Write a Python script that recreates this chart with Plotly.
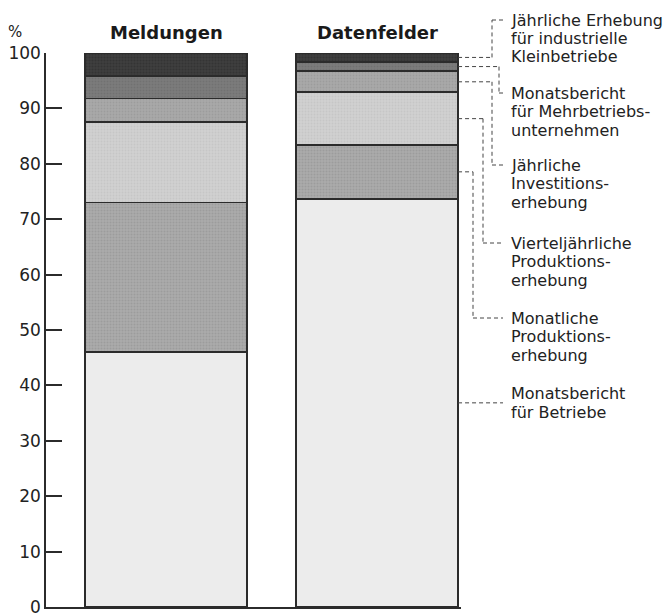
import plotly.graph_objects as go

# ---------------- data ----------------
categories = ["Meldungen", "Datenfelder"]
series_names = [
    "Monatsbericht für Betriebe",
    "Monatliche Produktionserhebung",
    "Vierteljährliche Produktionserhebung",
    "Jährliche Investitionserhebung",
    "Monatsbericht für Mehrbetriebsunternehmen",
    "Jährliche Erhebung für industrielle Kleinbetriebe",
]
meldungen = [46.0, 27.0, 14.5, 4.3, 4.1, 4.1]
datenfelder = [73.7, 9.7, 9.5, 3.8, 1.7, 1.6]
label_lines = [
    ["Monatsbericht", "für Betriebe"],
    ["Monatliche", "Produktions-", "erhebung"],
    ["Vierteljährliche", "Produktions-", "erhebung"],
    ["Jährliche", "Investitions-", "erhebung"],
    ["Monatsbericht", "für Mehrbetriebs-", "unternehmen"],
    ["Jährliche Erhebung", "für industrielle", "Kleinbetriebe"],
]
y_ticks = [0, 10, 20, 30, 40, 50, 60, 70, 80, 90, 100]

# ---------------- styling ----------------
fills = ["#ececec", "#ababab", "#d0d0d0", "#a9a9a9", "#7c7c7c", "#3e3e3e"]
pattern_fg = [None, "#8e8e8e", "#bcbcbc", "#909090", "#666666", "#2a2a2a"]
FONT = "DejaVu Sans"
W, H = 672, 616
M_L, M_R, M_T, M_B = 46, 211, 53, 9
plot_w = W - M_L - M_R
plot_h = H - M_T - M_B
x_range = [-0.57, 1.398]
bar_w = 0.768
# leader geometry (pixels): vertical-run x and label first-line y
leader_vx_px = [None, 473, 483, 492, 499, 492]
label_y_px = [None, 318, 243, 165, 93, 20]
leader_end_px = 503
label_x_px = 509
line_gap_px = 18.5

def px_x(px):
    return (px - M_L) / plot_w

def px_y(py):
    return (H - M_B - py) / plot_h

fig = go.Figure()
for i, name in enumerate(series_names):
    marker = dict(color=fills[i], line=dict(color="#2b2b2b", width=1.7))
    if pattern_fg[i]:
        marker["pattern"] = dict(shape=".", fgcolor=pattern_fg[i], bgcolor=fills[i],
                                 size=3, solidity=0.35)
    fig.add_trace(go.Bar(
        x=categories, y=[meldungen[i], datenfelder[i]], name=name,
        marker=marker, width=bar_w, showlegend=False, hoverinfo="name+y",
    ))

shapes = []
annotations = []
ymax = y_ticks[-1]
bar_edge = (1 + bar_w / 2 - x_range[0]) / (x_range[1] - x_range[0])
cum = 0.0
dash = dict(color="#444444", width=1, dash="4px,3px")
for i, v in enumerate(datenfelder):
    mid = (cum + v / 2) / ymax
    cum += v
    lines = label_lines[i]
    if leader_vx_px[i] is None:
        shapes.append(dict(type="line", xref="paper", yref="paper",
                           x0=bar_edge, x1=px_x(leader_end_px), y0=mid, y1=mid, line=dash))
        n = len(lines)
        mid_px = H - M_B - mid * plot_h
        first_px = mid_px - (n - 1) * line_gap_px / 2
    else:
        vx = px_x(leader_vx_px[i])
        ty = px_y(label_y_px[i])
        shapes.append(dict(type="line", xref="paper", yref="paper",
                           x0=bar_edge, x1=vx, y0=mid, y1=mid, line=dash))
        shapes.append(dict(type="line", xref="paper", yref="paper",
                           x0=vx, x1=vx, y0=mid, y1=ty, line=dash))
        shapes.append(dict(type="line", xref="paper", yref="paper",
                           x0=vx, x1=px_x(leader_end_px), y0=ty, y1=ty, line=dash))
        first_px = label_y_px[i]
    for k, t in enumerate(lines):
        annotations.append(dict(
            text=t, xref="paper", yref="paper", x=px_x(label_x_px),
            y=px_y(first_px + k * line_gap_px), xanchor="left", yanchor="middle",
            showarrow=False, font=dict(family=FONT, size=16, color="#222222")))

for c in categories:
    annotations.append(dict(text="<b>%s</b>" % c, xref="x", yref="paper", x=c,
                            y=px_y(33), yanchor="middle", showarrow=False,
                            font=dict(family=FONT, size=18, color="#1a1a1a")))
annotations.append(dict(text="%", xref="paper", yref="paper", x=px_x(6), y=px_y(32),
                        xanchor="left", yanchor="middle", showarrow=False,
                        font=dict(family=FONT, size=15, color="#222222")))

fig.update_layout(
    barmode="stack",
    width=W, height=H,
    margin=dict(l=M_L, r=M_R, t=M_T, b=M_B, autoexpand=False),
    paper_bgcolor="white", plot_bgcolor="white",
    shapes=shapes, annotations=annotations,
    xaxis=dict(range=x_range, showticklabels=False, ticks="", showgrid=False,
               automargin=False,
               showline=True, linecolor="#2b2b2b", linewidth=1.5, zeroline=False),
    yaxis=dict(range=[0, ymax], tickvals=y_ticks, ticks="inside", ticklen=16,
               tickwidth=1.5, tickcolor="#2b2b2b", showline=True, linecolor="#2b2b2b",
               linewidth=1.5, showgrid=False, zeroline=False, ticklabelstandoff=0,
               ticklabeloverflow="allow", automargin=False,
               tickfont=dict(family=FONT, size=17, color="#222222")),
)

fig.write_html(
    "out.html",
    config={"displayModeBar": False},
    post_script="document.body.style.margin='0';document.body.style.padding='0';"
                "document.documentElement.style.overflow='hidden';",
)
